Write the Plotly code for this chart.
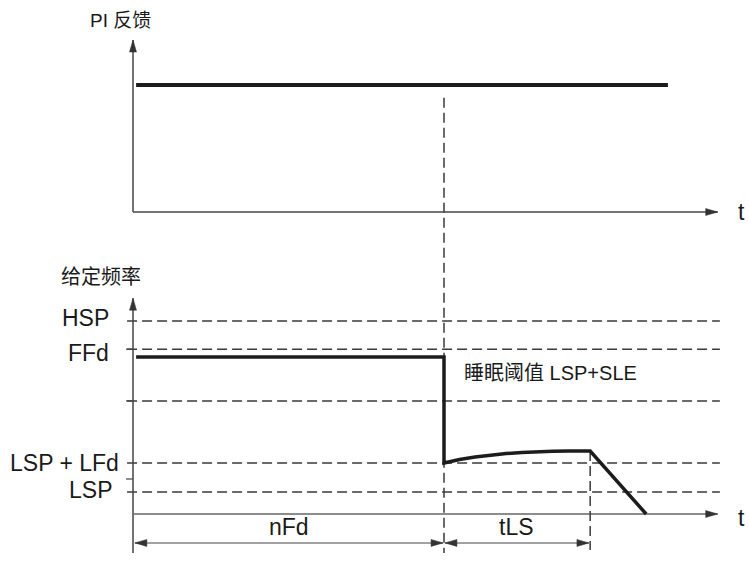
import plotly.graph_objects as go

# ---------------- data (schematic units) ----------------
# time axis (arbitrary units)
t_start = 0.0
t_sleep = 10.0          # end of nFd
t_tls_end = 14.7        # end of tLS
t_stop = 16.5           # frequency reaches 0
t_axis_end = 18.8       # arrow tip of t axis
t_pi_line = [0.1, 17.2]

# PI feedback level
pi_level = 1.0
pi_axis_top = 1.354

# frequency levels
freq_levels = {"HSP": 50.0, "FFd": 42.7, "SLE": 29.3, "LSP + LFd": 13.2, "LSP": 5.7}
level_ticks = [42.7, 29.3, 9.07]
freq_axis_top = 55.9
freq_axis_bottom = -10.1

# reference frequency trace
freq_t = [0.1, 10.0, 10.0, 10.5, 11.0, 11.5, 12.0, 12.5, 13.0, 13.5, 14.0, 14.7, 16.5]
freq_v = [40.7, 40.7, 13.2, 14.1, 14.75, 15.25, 15.65, 15.95, 16.15, 16.27, 16.32, 16.32, 0.0]

# dimension arrows
dim_y = -7.5
nfd_span = [0.06, 9.97]
tls_span = [10.03, 14.66]

# ---------------- scales (pixels per unit) ----------------
W, H = 749, 561
X0, SX = 133, 31.1
F0, SF = 514, 3.86
P0, SP = 212, 127

xr = [-X0 / SX, (W - X0) / SX]
yr_f = [(F0 - H) / SF, F0 / SF]
yr_p = [(P0 - H) / SP, P0 / SP]

def pi_to_f(p):
    return (F0 - (P0 - p * SP)) / SF

AX = "#444444"
DK = "#1c1c1c"
DASH = "#3a3a3a"
FONT = "Liberation Sans, Arial, Noto Sans CJK SC, sans-serif"

fig = go.Figure()

def line(x, y, yaxis="y", color=AX, width=1.5, dash=None):
    fig.add_trace(go.Scatter(x=x, y=y, yaxis=yaxis, mode="lines",
                             line=dict(color=color, width=width, dash=dash),
                             hoverinfo="skip", showlegend=False))

def head(x, y, direction, yaxis="y", L=12, w=3.5, color="#333333"):
    sy = SF if yaxis == "y" else SP
    if direction == "up":
        xs = [x, x - w / SX, x + w / SX, x]
        ys = [y, y - L / sy, y - L / sy, y]
    elif direction == "right":
        xs = [x, x - L / SX, x - L / SX, x]
        ys = [y, y + w / sy, y - w / sy, y]
    else:  # left
        xs = [x, x + L / SX, x + L / SX, x]
        ys = [y, y + w / sy, y - w / sy, y]
    fig.add_trace(go.Scatter(x=xs, y=ys, yaxis=yaxis, mode="lines", fill="toself",
                             fillcolor=color, line=dict(color=color, width=0.5),
                             hoverinfo="skip", showlegend=False))

# ---- top panel: PI feedback ----
line([t_start, t_start], [0, pi_axis_top], yaxis="y2")
head(t_start, pi_axis_top, "up", yaxis="y2")
line([t_start, t_axis_end], [0, 0], yaxis="y2")
head(t_axis_end, 0, "right", yaxis="y2")
line(t_pi_line, [pi_level, pi_level], yaxis="y2", color=DK, width=4)

# ---- bottom panel: frequency ----
dash_x = [-0.19, 18.87]
for name, lv in freq_levels.items():
    line(dash_x, [lv, lv], color=DASH, width=1.5, dash="10px,5px")
for lv in level_ticks:
    line([-7 / SX, 0], [lv, lv], color=AX, width=1.2)

line([t_start, t_start], [freq_axis_bottom, freq_axis_top])
head(t_start, freq_axis_top, "up")
line([t_start, t_axis_end], [0, 0], color="#666666", width=1.3)
head(t_axis_end, 0, "right")

# vertical dashed markers
line([t_sleep, t_sleep], [pi_to_f(0.9), freq_axis_bottom], color=DASH, width=1.5, dash="10px,5px")
line([t_tls_end, t_tls_end], [freq_v[11], -9.3], color=DASH, width=1.5, dash="10px,5px")

# frequency trace
line(freq_t, freq_v, color=DK, width=3.5)

# dimension arrows
for a, b in (nfd_span, tls_span):
    line([a, b], [dim_y, dim_y], color=AX, width=1.1)
    head(a, dim_y, "left")
    head(b, dim_y, "right")

# ---------------- text ----------------
def text(x, y, s, size=23, xanchor="center", yref="y", xshift=0, yshift=0):
    fig.add_annotation(x=x, y=y, xref="x", yref=yref, text=s, showarrow=False,
                       xanchor=xanchor, yanchor="middle", xshift=xshift, yshift=yshift,
                       font=dict(family=FONT, size=size, color="#1a1a1a"))

text(t_start, pi_axis_top, "PI 反馈", size=19, yref="y2", xshift=-13, yshift=20)
text(t_axis_end, 0, "t", yref="y2", xshift=24)
text(t_start, freq_axis_top, "给定频率", size=20, xshift=-32, yshift=21)
text(t_start, freq_levels["HSP"], "HSP", xanchor="right", xshift=-22, yshift=3)
text(t_start, freq_levels["FFd"], "FFd", xanchor="right", xshift=-22, yshift=-4)
text(t_start, freq_levels["LSP + LFd"], "LSP + LFd", xanchor="right", xshift=-12)
text(t_start, freq_levels["LSP"], "LSP", xanchor="right", xshift=-19, yshift=2)
text(t_sleep, freq_levels["SLE"], "睡眠阈值 LSP+SLE", size=20, xanchor="left", xshift=18, yshift=28)
text(t_axis_end, 0, "t", xshift=24, yshift=-4)
text(sum(nfd_span) / 2, dim_y, "nFd", yshift=16)
text(sum(tls_span) / 2, dim_y, "tLS", yshift=16)

fig.update_layout(
    width=W, height=H, margin=dict(l=0, r=0, t=0, b=0),
    paper_bgcolor="white", plot_bgcolor="white", showlegend=False,
    xaxis=dict(range=xr, visible=False, fixedrange=True),
    yaxis=dict(range=yr_f, visible=False, fixedrange=True, domain=[0, 1]),
    yaxis2=dict(range=yr_p, visible=False, fixedrange=True, overlaying="y"),
)

fig.write_html("out.html", config={"displayModeBar": False},
               post_script="document.body.style.margin='0';document.body.style.overflow='hidden';")
